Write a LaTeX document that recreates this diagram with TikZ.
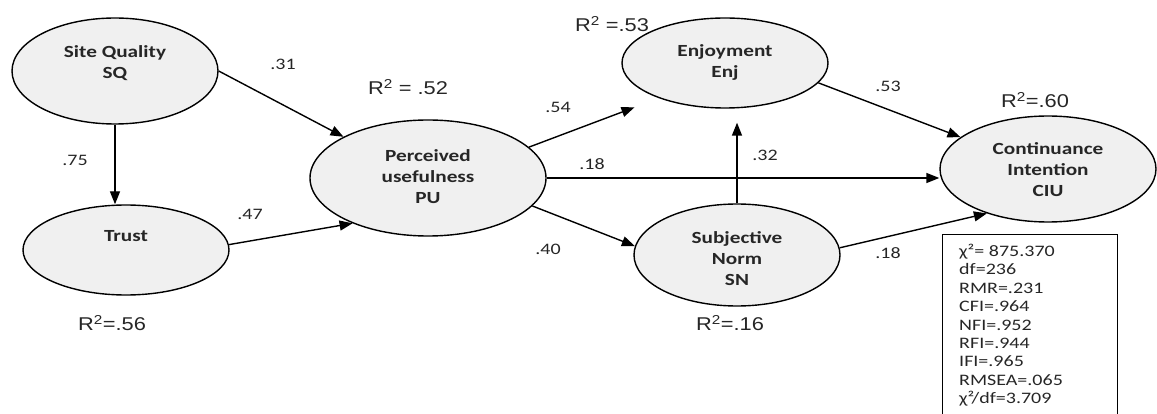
\documentclass[tikz,border=0pt]{standalone}
\usepackage{fontspec}
\setmainfont{Carlito}[FakeStretch=1.25]
\newfontfamily\arialf{Liberation Sans}[FakeStretch=1.18]
\usetikzlibrary{shapes.geometric,arrows.meta}
\begin{document}
\begin{tikzpicture}[x=1pt,y=-1pt,
  lat/.style={ellipse,draw,line width=1.4pt,fill=gray!12,inner sep=0pt},
  lbl/.style={font=\fontsize{17}{21}\selectfont\bfseries,align=center,text=black!85},
  coef/.style={font=\fontsize{16}{18}\selectfont,text=black!85},
  rsq/.style={font=\arialf\fontsize{18.5}{20}\selectfont,text=black!85},
  arr/.style={line width=1.4pt,-{Triangle[length=13pt,width=10pt]}}]
\useasboundingbox (0,0) rectangle (1157,414);
\clip (0,0) rectangle (1157,414);
% latent variables
\node[lat,minimum width=206,minimum height=106] (sq) at (115,71) {};
\node[lat,minimum width=206,minimum height=90] (trust) at (126,250) {};
\node[lat,minimum width=236,minimum height=116] (pu) at (428,178) {};
\node[lat,minimum width=206,minimum height=90] (enj) at (725,63) {};
\node[lat,minimum width=206,minimum height=102] (sn) at (737,255) {};
\node[lat,minimum width=216,minimum height=106] (ciu) at (1048,169) {};
% texts
\node[lbl] (sqt) at (115,63) {Site Quality\\SQ};
\node[lbl] (trustt) at (126,236) {Trust};
\node[lbl] (put) at (428,177) {Perceived\\usefulness\\PU};
\node[lbl] (enjt) at (725,62) {Enjoyment\\Enj};
\node[lbl] (snt) at (737,259) {Subjective\\Norm\\SN};
\node[lbl] (ciut) at (1048,170) {Continuance\\Intention\\CIU};
% paths
\draw[arr] (sq.east) -- (pu.154);
\draw[arr] (sq.south) -- (sq.south |- trust.north);
\draw[arr] (trust.3) -- (pu.211);
\draw[arr,shorten >=26pt] (pu.17) -- (enj.208);
\draw[arr] (pu.east) -- (ciu.west |- pu.east);
\draw[arr] (pu.-15) -- (sn.175);
\draw[arr,shorten >=14pt] (sn.north) -- (sn.north |- enj.south);
\draw[arr] (enj.-12) -- (ciu.160);
\draw[arr] (sn.4) -- (ciu.216);
% coefficients
\node[coef] (c31) at (283,64) {.31};
\node[coef] (c75) at (75,160) {.75};
\node[coef] (c47) at (250,214) {.47};
\node[coef] (c54) at (558,107) {.54};
\node[coef] (c18a) at (592,164) {.18};
\node[coef] (c40) at (548,249) {.40};
\node[coef] (c32) at (765,155) {.32};
\node[coef] (c53) at (888,86) {.53};
\node[coef] (c18b) at (888,253) {.18};
% R squared
\node[rsq] (r52) at (408,87) {R\textsuperscript{2} = .52};
\node[rsq] (r56) at (112,323) {R\textsuperscript{2}=.56};
\node[rsq] (r53) at (612,24) {R\textsuperscript{2} =.53};
\node[rsq] (r16) at (730,323) {R\textsuperscript{2}=.16};
\node[rsq] (r60) at (1035,100) {R\textsuperscript{2}=.60};
% fit statistics
\draw[line width=1pt] (942,235) rectangle (1117,430);
\node[anchor=north west,align=left,inner sep=0pt,font=\fontsize{16}{18.4}\selectfont,text=black!85] (fit) at (959,244)
 {χ²= 875.370\\df=236\\RMR=.231\\CFI=.964\\NFI=.952\\RFI=.944\\IFI=.965\\RMSEA=.065\\χ²/df=3.709};
\end{tikzpicture}
\end{document}
